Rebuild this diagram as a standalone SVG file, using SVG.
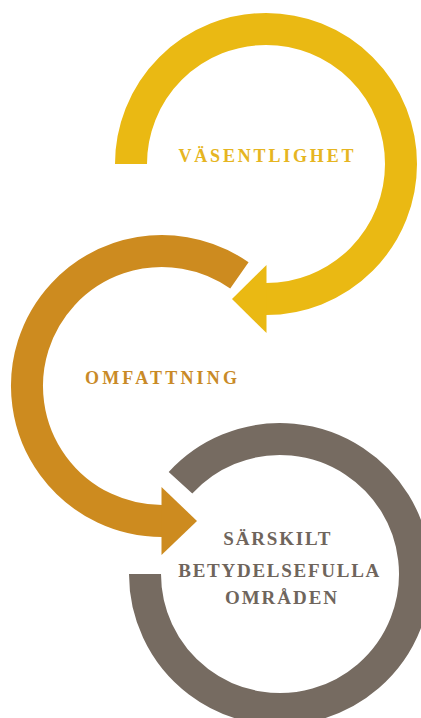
<svg xmlns="http://www.w3.org/2000/svg" width="421" height="718" viewBox="0 0 421 718">
<style>
.ring{fill:none;stroke-width:32;stroke-linecap:butt}
.lbl{font-family:"Liberation Serif","Times New Roman",serif;font-weight:bold;text-anchor:middle}
</style>
<rect width="421" height="718" fill="#ffffff"/>
<g id="node-vasentlighet">
<path class="ring" stroke="#EAB913" d="M 131 164 A 135 135 0 1 1 266 299"/>
<text class="lbl" x="266" y="162" font-size="18" fill="#E6B521" textLength="175" lengthAdjust="spacing">VÄSENTLIGHET</text>
</g>
<g id="node-omfattning">
<path class="ring" stroke="#CD8B1F" d="M 239.4 275.4 A 135 135 0 1 0 162 521"/>
<text class="lbl" x="161" y="384" font-size="18" fill="#C98A27" textLength="152" lengthAdjust="spacing">OMFATTNING</text>
</g>
<g id="node-sarskilt">
<path class="ring" stroke="#766B61" d="M 145 574 A 135 135 0 1 0 180.5 482.8"/>
<text class="lbl" font-size="19" fill="#6F655C">
<tspan x="280" y="545" textLength="107" lengthAdjust="spacing">SÄRSKILT</tspan>
<tspan x="281.5" y="577" textLength="200" lengthAdjust="spacing">BETYDELSEFULLA</tspan>
<tspan x="281" y="604" textLength="112" lengthAdjust="spacing">OMRÅDEN</tspan>
</text>
</g>
<g id="connectors">
<polygon fill="#EAB913" points="266.5,265 232,299 266.5,333"/>
<polygon fill="#CD8B1F" points="161.5,487 197,521 161.5,555"/>
</g>
</svg>
